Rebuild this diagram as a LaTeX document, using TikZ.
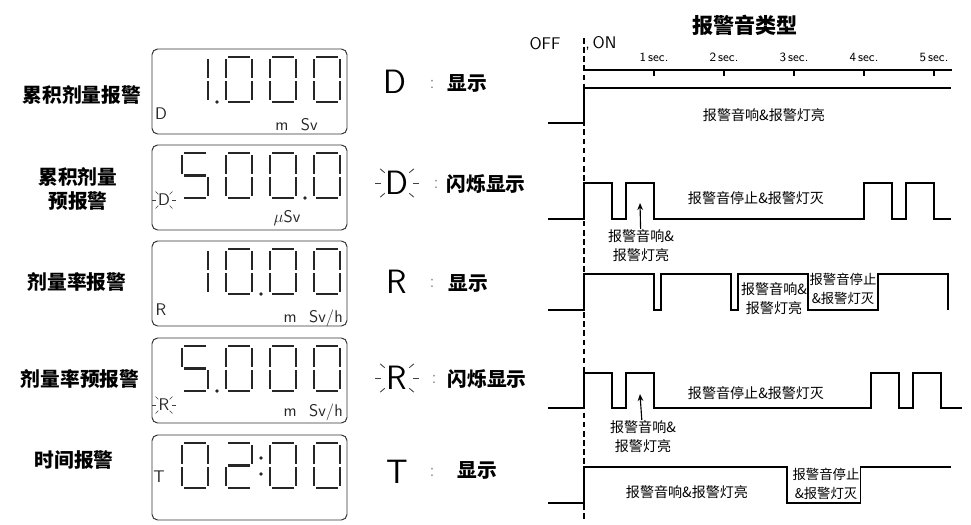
\documentclass[tikz,border=0pt]{standalone}
\usepackage{fontspec}
\usepackage{tikz}
\usetikzlibrary{arrows.meta,positioning,calc}
\newfontfamily\cjk{Noto Sans CJK SC}
\definecolor{lcdInk}{RGB}{38,38,38}
\definecolor{scanGray}{RGB}{130,130,130}

\begin{document}
\begin{tikzpicture}[
  x=0.25mm, y=-0.25mm,
  >={Stealth[length=5pt,width=4pt]},
  alarm/.style={font=\cjk\bfseries\fontsize{14}{16.5}\selectfont, align=center, inner sep=0pt},
  sym/.style={font=\sffamily\fontsize{24}{28}\selectfont, inner sep=0pt},
  sep/.style={font=\sffamily\fontsize{13}{15}\selectfont, text=scanGray, inner sep=0pt},
  dsc/.style={font=\cjk\bfseries\fontsize{14}{17}\selectfont, inner sep=0pt},
  lcd/.style={draw=black!80, line width=0.7pt, rounded corners=4pt},
  lcdtxt/.style={font=\sffamily\fontsize{12}{14}\selectfont, text=lcdInk, inner sep=0pt},
  lcdseg/.style={line width=1.6pt, draw=lcdInk},
  ray/.style={line width=0.45pt, black!75},
  wave/.style={line width=1.1pt},
  onedge/.style={line width=1.2pt, dash pattern=on 4pt off 2.5pt},
  note/.style={font=\cjk\fontsize{10}{13.5}\selectfont, align=center, inner sep=0.5pt},
  boxnote/.style={font=\cjk\fontsize{9.5}{13}\selectfont, align=center, inner sep=0pt},
  secmark/.style={font=\sffamily\fontsize{9}{10}\selectfont, inner sep=0pt},
  pics/lcddigit/.style={code={
    \foreach \s in {#1}{
      \if a\s \draw[lcdseg] (2,0) -- (24,0);\fi
      \if b\s \draw[lcdseg] (26,2) -- (26,21);\fi
      \if c\s \draw[lcdseg] (26,24) -- (26,43);\fi
      \if d\s \draw[lcdseg] (2,45) -- (24,45);\fi
      \if e\s \draw[lcdseg] (0,24) -- (0,43);\fi
      \if f\s \draw[lcdseg] (0,2) -- (0,21);\fi
      \if g\s \draw[lcdseg] (2,22.5) -- (24,22.5);\fi
    }}}
]
\useasboundingbox (0,0) rectangle (971,525);
\fill[white] (0,0) rectangle (971,525);

% left column: alarm names
\node[alarm] (lab1) at (82,95) {累积剂量报警};
\node[alarm] (lab2) at (78,189) {累积剂量\\预报警};
\node[alarm] (lab3) at (77,282) {剂量率报警};
\node[alarm] (lab4) at (80,379) {剂量率预报警};
\node[alarm] (lab5) at (74,460) {时间报警};

% LCD frames
\foreach \t in {49,145,241,338,435}
  \draw[lcd] (152,\t) rectangle (347,\t+85);

% LCD 1: 1.000 mSv
\pic at (182,57) {lcddigit={b,c}};
\fill[lcdInk] (217,102) circle (1.4pt);
\foreach \x in {226,270,314}
  \pic at (\x,57) {lcddigit={a,b,c,d,e,f}};
\node[lcdtxt] (lcdD1) at (161,114) {D};
\node[lcdtxt, anchor=east] (unit1) at (318,125) {m\hspace{9pt}Sv};

% LCD 2: 500.0 uSv, D blinking
\pic at (182,153) {lcddigit={a,f,g,c,d}};
\pic at (226,153) {lcddigit={a,b,c,d,e,f}};
\pic at (270,153) {lcddigit={a,b,c,d,e,f}};
\fill[lcdInk] (305,198) circle (1.4pt);
\pic at (314,153) {lcddigit={a,b,c,d,e,f}};
\node[lcdtxt] (lcdD2) at (164,200) {D};
\foreach \a in {0,45,135,180,225,315}
  \draw[ray] ($(lcdD2)+(\a:8)$) -- ($(lcdD2)+(\a:12)$);
\node[lcdtxt] (unit2) at (287,218) {$\mu$Sv};

% LCD 3: 10.00 mSv/h
\pic at (182,249) {lcddigit={b,c}};
\pic at (226,249) {lcddigit={a,b,c,d,e,f}};
\fill[lcdInk] (261,294) circle (1.4pt);
\pic at (270,249) {lcddigit={a,b,c,d,e,f}};
\pic at (314,249) {lcddigit={a,b,c,d,e,f}};
\node[lcdtxt] (lcdR3) at (161,310) {R};
\node[lcdtxt, anchor=east] (unit3) at (343,318) {m\hspace{9pt}Sv/h};

% LCD 4: 5.000 mSv/h, R blinking
\pic at (182,346) {lcddigit={a,f,g,c,d}};
\fill[lcdInk] (217,391) circle (1.4pt);
\foreach \x in {226,270,314}
  \pic at (\x,346) {lcddigit={a,b,c,d,e,f}};
\node[lcdtxt] (lcdR4) at (164,405) {R};
\foreach \a in {0,45,135,180,225,315}
  \draw[ray] ($(lcdR4)+(\a:8)$) -- ($(lcdR4)+(\a:12)$);
\node[lcdtxt, anchor=east] (unit4) at (343,412) {m\hspace{9pt}Sv/h};

% LCD 5: 02:00
\pic at (182,443) {lcddigit={a,b,c,d,e,f}};
\pic at (226,443) {lcddigit={a,b,g,e,d}};
\fill[lcdInk] (261,458) circle (1.4pt) (261,474) circle (1.4pt);
\pic at (270,443) {lcddigit={a,b,c,d,e,f}};
\pic at (314,443) {lcddigit={a,b,c,d,e,f}};
\node[lcdtxt] (lcdT5) at (159,477) {T};

% middle column: symbol meaning
\node[sym] (sym1) at (395,82) {D};
\node[sep] (sep1) at (432,84) {:};
\node[dsc] (dsc1) at (467,83) {显示};

\node[sym] (sym2) at (397,183) {D};
\foreach \a in {0,40,140,180,220,320}
  \draw[ray, line width=0.6pt] ($(sym2)+(\a:16)$) -- ($(sym2)+(\a:22)$);
\node[sep] (sep2) at (436,184) {:};
\node[dsc] (dsc2) at (486,184) {闪烁显示};

\node[sym] (sym3) at (397,282) {R};
\node[sep] (sep3) at (432,283) {:};
\node[dsc] (dsc3) at (468,283) {显示};

\node[sym] (sym4) at (397,378) {R};
\foreach \a in {0,40,140,180,220,320}
  \draw[ray, line width=0.6pt] ($(sym4)+(\a:16)$) -- ($(sym4)+(\a:22)$);
\node[sep] (sep4) at (434,379) {:};
\node[dsc] (dsc4) at (487,379) {闪烁显示};

\node[sym] (sym5) at (397,472) {T};
\node[sep] (sep5) at (432,472) {:};
\node[dsc] (dsc5) at (477,470) {显示};

% right column: alarm sound timing
\node[font=\cjk\bfseries\fontsize{15}{17}\selectfont] (title) at (745,25) {报警音类型};
\node[font=\sffamily\fontsize{12}{14}\selectfont, inner sep=0pt] (off) at (545,44) {OFF};
\node[font=\sffamily\fontsize{12}{14}\selectfont, inner sep=0pt, anchor=west] (on) at (585,44) {,\,ON};

\begin{scope}[shift={(584,0)}, x=17.5mm]
  \draw[onedge] (0,38) -- (0,522);
  % time axis
  \draw[line width=0.8pt] (0,70) -- (5.26,70);
  \foreach \t in {1,...,5}{
    \draw[line width=0.8pt] (\t,70) -- (\t,76);
    \node[secmark] (sec\t) at (\t,57) {\t\,sec.};
  }
  % D display
  \draw[wave] (-0.51,123) -| (0,88) -- (5.24,88);
  % D blinking
  \draw[wave] (-0.51,219) -| (0,183) -| (0.4,219) -| (0.6,183) -| (1,219)
    -| (4,183) -| (4.4,219) -| (4.6,183) -| (5,219) -- (5.24,219);
  \coordinate (up2) at (0.8,203);
  % R display
  \draw[wave] (-0.51,310) -| (0,274) -| (1,310) -| (1.1,274) -| (2.1,310)
    -| (2.2,274) -| (3.2,310) -| (4.2,274) -| (5.2,310);
  % R blinking
  \draw[wave] (-0.51,408) -| (0,373) -| (0.4,408) -| (0.6,373) -| (1,408)
    -| (4.1,373) -| (4.5,408) -| (4.7,373) -| (5.1,408) -- (5.4,408);
  \coordinate (up4) at (0.8,394);
  % T display
  \draw[wave] (-0.51,503) -| (0,467) -| (2.9,503) -| (3.95,467) -- (5.24,467);
\end{scope}

\node[note] (w1) at (764,115) {报警音响\&报警灯亮};
\node[note] (w2) at (756,198) {报警音停止\&报警灯灭};
\node[note] (snd2) at (641,246) {报警音响\&\\报警灯亮};
\node[note] (w3a) at (774,299) {报警音响\&\\报警灯亮};
\node[boxnote] (w3b) at (843,289) {报警音停止\\\&报警灯灭};
\node[note] (w4) at (756,393) {报警音停止\&报警灯灭};
\node[note] (snd4) at (643,437) {报警音响\&\\报警灯亮};
\node[note] (w5a) at (687,492) {报警音响\&报警灯亮};
\node[boxnote] (w5b) at (826,484) {报警音停止\\\&报警灯灭};

\draw[->, line width=0.8pt] (snd2) -- (up2);
\draw[->, line width=0.8pt] (snd4) -- (up4);

\end{tikzpicture}
\end{document}
